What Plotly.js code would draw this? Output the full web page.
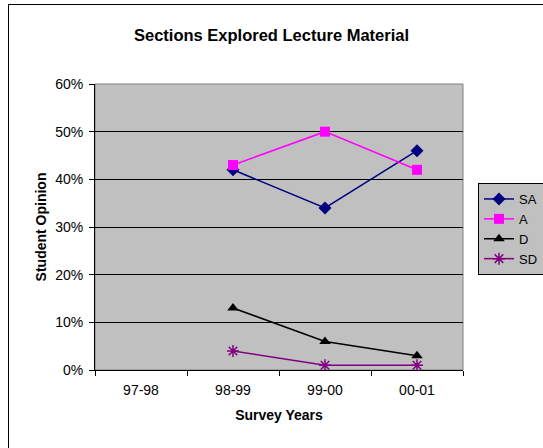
<!DOCTYPE html>
<html><head><meta charset="utf-8">
<script src="https://cdn.plot.ly/plotly-3.0.1.min.js"></script>
<style>
html,body{margin:0;padding:0;background:#fff;}
#frame{position:absolute;left:8px;top:4px;width:545px;height:450px;border:1px solid #000;box-sizing:border-box;}
#chart{position:absolute;left:0;top:0;width:543px;height:448px;}
</style></head>
<body>
<div id="frame"></div>
<div id="chart"></div>
<script>
const years = ["97-98","98-99","99-00","00-01"];
const SA = [null, 0.42, 0.34, 0.46];
const A  = [null, 0.43, 0.50, 0.42];
const D  = [null, 0.13, 0.06, 0.03];
const SD = [null, 0.04, 0.01, 0.01];
const yTicks = [0,0.1,0.2,0.3,0.4,0.5,0.6];

const traces = [
 {name:"SA", x:years, y:SA, mode:"lines+markers", line:{color:"#000080",width:1.5}, marker:{symbol:"diamond",size:10,color:"#000080"}},
 {name:"A", x:years, y:A, mode:"lines+markers", line:{color:"#FF00FF",width:1.5}, marker:{symbol:"square",size:10,color:"#FF00FF"}},
 {name:"D", x:years, y:D, mode:"lines+markers", line:{color:"#000000",width:1.5}, marker:{symbol:"triangle-up",size:10,color:"#000000"}},
 {name:"SD", x:years, y:SD, mode:"lines+markers", line:{color:"#800080",width:1.5}, marker:{symbol:"asterisk-open",size:10,color:"#800080",line:{color:"#800080",width:1.5}}}
];
const layout = {
 width:543, height:448,
 margin:{l:95,r:80,t:84,b:78},
 paper_bgcolor:"rgba(0,0,0,0)", plot_bgcolor:"#C0C0C0",
 font:{family:"Liberation Sans, Arial, sans-serif", size:13, color:"#000"},
 title:{text:"<b>Sections Explored Lecture Material</b>", x:0.5, xanchor:"center", y:1-35/448, yanchor:"middle", font:{size:16.5}},
 xaxis:{type:"category", categoryorder:"array", categoryarray:years, range:[-0.5,3.5],
   tickson:"boundaries", ticks:"outside", ticklen:5, tickcolor:"#000", showgrid:false,
   showline:true, linecolor:"#000", linewidth:1, zeroline:false, ticklabelstandoff:7, tickfont:{size:14},
   title:{text:"<b>Survey Years</b>", font:{size:14}, standoff:13}},
 yaxis:{range:[0,0.6], tickvals:yTicks, tickformat:".0%", ticks:"outside", ticklen:5, tickcolor:"#000",
   showgrid:true, gridcolor:"#000", gridwidth:1, showline:true, linecolor:"#000", linewidth:1, zeroline:false,
   ticklabelstandoff:3, tickfont:{size:14},
   title:{text:"<b>Student Opinion</b>", font:{size:14}, standoff:5}},
 shapes:[{type:"rect", xref:"paper", yref:"paper", x0:0, x1:1, y0:0, y1:1, line:{color:"#808080",width:1}, layer:"below"}],
 legend:{x:478/543, xanchor:"left", y:1-183/448, yanchor:"top", xref:"container", yref:"container",
   bgcolor:"#C0C0C0", bordercolor:"#000", borderwidth:1, font:{size:13}, itemwidth:30, tracegroupgap:0},
 showlegend:true
};
Plotly.newPlot("chart", traces, layout, {displayModeBar:false, staticPlot:true});
</script>
</body></html>
